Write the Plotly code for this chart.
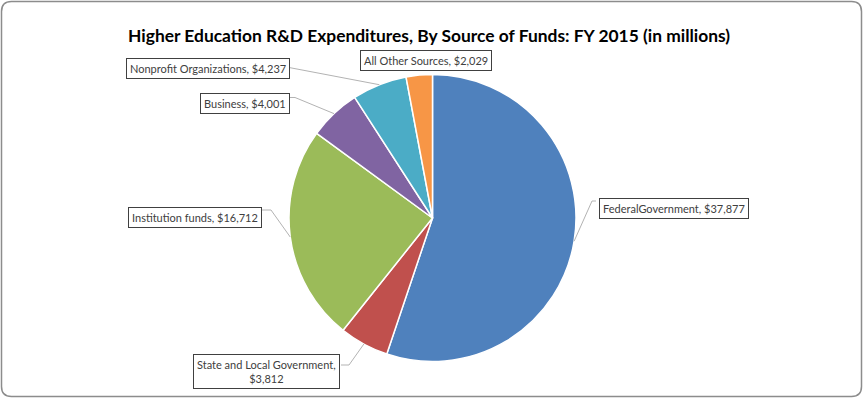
import math
import plotly.graph_objects as go

# ---- data ----
sources = ["Federal Government", "State and Local Government", "Institution funds",
           "Business", "Nonprofit Organizations", "All Other Sources"]
amounts = [37877, 3812, 16712, 4001, 4237, 2029]
label_texts = ["FederalGovernment, $37,877", "State and Local Government,<br>$3,812",
               "Institution funds, $16,712", "Business, $4,001",
               "Nonprofit Organizations, $4,237", "All Other Sources, $2,029"]
colors = ["#4F81BD", "#C0504D", "#9BBB59", "#8064A2", "#4BACC6", "#F79646"]
title_text = "Higher Education R&D Expenditures, By Source of Funds: FY 2015 (in millions)"

# ---- layout (pixels) ----
W, H = 864, 399
CX, CY, R = 432.5, 218.0, 143.5
# label box centers and leader attach points (elbow, box edge); None = no leader
label_pos = [(673.5, 208.5), (266.0, 371.0), (195.3, 217.5), (244.7, 103.8), (208.0, 68.8), (425.5, 60.5)]
leader_pts = [[(592, 201), (596, 201)],
              [(349, 365), (341, 365)],
              [(271, 210), (262, 210)],
              [(295, 97.5), (289, 97.5)],
              [(290, 67.7)],
              None]


def px(x, y):
    return x / W, 1 - y / H


fig = go.Figure()
fig.add_trace(go.Pie(
    labels=sources, values=amounts, sort=False, direction="clockwise", rotation=0,
    marker=dict(colors=colors, line=dict(color="white", width=1.5)),
    textinfo="none", hoverinfo="label+value", showlegend=False,
    domain=dict(x=[(CX - R) / W, (CX + R) / W], y=[1 - (CY + R) / H, 1 - (CY - R) / H]),
))

total = sum(amounts)
shapes = []
cum = 0.0
for i, v in enumerate(amounts):
    mid = (cum + v / 2) / total * 2 * math.pi
    cum += v
    if leader_pts[i] is None:
        continue
    pts = [(CX + R * math.sin(mid), CY - R * math.cos(mid))] + leader_pts[i]
    path = "M " + " L ".join(f"{px(x, y)[0]:.5f},{px(x, y)[1]:.5f}" for x, y in pts)
    shapes.append(dict(type="path", xref="paper", yref="paper", path=path,
                       line=dict(color="#B3B3B3", width=1)))

# outer rounded frame
x0, y0, x1, y1, rr = 1.5, 1.5, 861.5, 396.5, 10


def P(x, y):
    a, b = px(x, y)
    return f"{a:.5f},{b:.5f}"


frame = (f"M {P(x0 + rr, y0)} L {P(x1 - rr, y0)} Q {P(x1, y0)} {P(x1, y0 + rr)} "
         f"L {P(x1, y1 - rr)} Q {P(x1, y1)} {P(x1 - rr, y1)} L {P(x0 + rr, y1)} "
         f"Q {P(x0, y1)} {P(x0, y1 - rr)} L {P(x0, y0 + rr)} Q {P(x0, y0)} {P(x0 + rr, y0)} Z")
shapes.append(dict(type="path", xref="paper", yref="paper", path=frame,
                   line=dict(color="#8C8C8C", width=1.5), layer="below"))

annotations = []
for i, t in enumerate(label_texts):
    ax, ay = px(*label_pos[i])
    annotations.append(dict(text=t, x=ax, y=ay, xref="paper", yref="paper",
                            xanchor="center", yanchor="middle", showarrow=False,
                            font=dict(family="Lato, Carlito, sans-serif", size=11, color="#404040"),
                            bordercolor="#404040", borderwidth=1, borderpad=3, bgcolor="white",
                            align="center"))
tx, ty = px(429, 35)
annotations.append(dict(text=f"<b>{title_text}</b>", x=tx, y=ty, xref="paper", yref="paper",
                        xanchor="center", yanchor="middle", showarrow=False,
                        font=dict(family="Lato, Carlito, sans-serif", size=17.4, color="#000000")))

fig.update_layout(width=W, height=H, autosize=False, margin=dict(l=0, r=0, t=0, b=0),
                  paper_bgcolor="white", plot_bgcolor="white",
                  shapes=shapes, annotations=annotations)
fig.write_html("out.html", config={"displayModeBar": False},
               post_script="document.body.style.margin='0px';document.body.style.padding='0px';")
